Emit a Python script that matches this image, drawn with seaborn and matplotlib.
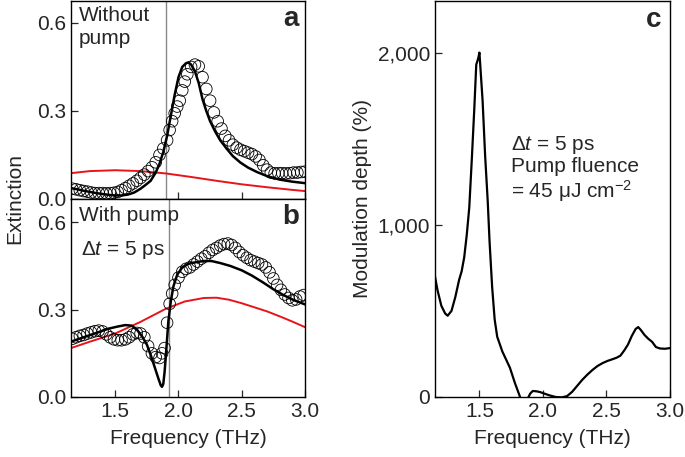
import numpy as np
import pandas as pd
import matplotlib
matplotlib.use("Agg")
import matplotlib.pyplot as plt
import seaborn as sns

# Panel a: without pump (measured circles, fit, red background)
freq_a_data = [1.16, 1.19, 1.22, 1.25, 1.28, 1.31, 1.34, 1.37, 1.40, 1.43, 1.46, 1.49, 1.52, 1.55,
               1.58, 1.61, 1.64, 1.67, 1.70, 1.73, 1.76, 1.79, 1.82, 1.85, 1.88, 1.91, 1.93, 1.95,
               1.97, 1.99, 2.01, 2.03, 2.05, 2.07, 2.10, 2.13, 2.16, 2.19, 2.22, 2.25, 2.28, 2.31,
               2.34, 2.37, 2.40, 2.43, 2.46, 2.49, 2.52, 2.55, 2.58, 2.61, 2.64, 2.67, 2.70, 2.73,
               2.76, 2.79, 2.82, 2.85, 2.88, 2.91, 2.94, 2.97, 3.00]
ext_a_data = [0.035, 0.033, 0.030, 0.027, 0.025, 0.022, 0.020, 0.020, 0.020, 0.019, 0.020, 0.021,
              0.024, 0.030, 0.037, 0.045, 0.053, 0.062, 0.072, 0.083, 0.095, 0.108, 0.125, 0.150,
              0.172, 0.200, 0.235, 0.265, 0.292, 0.315, 0.335, 0.370, 0.400, 0.425, 0.450, 0.458,
              0.452, 0.415, 0.375, 0.335, 0.295, 0.265, 0.240, 0.215, 0.200, 0.185, 0.175, 0.168,
              0.163, 0.158, 0.153, 0.145, 0.133, 0.115, 0.100, 0.090, 0.087, 0.088, 0.088, 0.087,
              0.088, 0.090, 0.090, 0.092, 0.093]

freq_a_fit = [1.15, 1.20, 1.25, 1.30, 1.35, 1.40, 1.45, 1.50, 1.55, 1.60, 1.65, 1.70, 1.74, 1.78,
              1.82, 1.85, 1.88, 1.91, 1.94, 1.97, 2.00, 2.03, 2.06, 2.08, 2.10, 2.13, 2.16, 2.19,
              2.22, 2.25, 2.29, 2.33, 2.38, 2.43, 2.49, 2.55, 2.62, 2.70, 2.80, 2.90, 3.00]
ext_a_fit = [0.037, 0.033, 0.028, 0.024, 0.020, 0.017, 0.014, 0.012, 0.012, 0.015, 0.022, 0.035,
             0.048, 0.062, 0.090, 0.120, 0.160, 0.215, 0.285, 0.355, 0.415, 0.450, 0.463, 0.465,
             0.458, 0.435, 0.395, 0.340, 0.300, 0.265, 0.230, 0.200, 0.172, 0.146, 0.124, 0.107,
             0.092, 0.078, 0.066, 0.059, 0.054]

freq_a_bg = [1.15, 1.30, 1.50, 1.70, 1.90, 2.10, 2.30, 2.50, 2.70, 2.90, 3.00]
ext_a_bg = [0.088, 0.095, 0.098, 0.095, 0.087, 0.075, 0.062, 0.050, 0.040, 0.031, 0.027]

# Panel b: with pump, dt = 5 ps
freq_b_data = [1.16, 1.19, 1.22, 1.25, 1.28, 1.31, 1.34, 1.37, 1.40, 1.43, 1.46, 1.49, 1.52, 1.55,
               1.58, 1.61, 1.64, 1.67, 1.70, 1.73, 1.76, 1.79, 1.82, 1.85, 1.87, 1.89, 1.91, 1.93,
               1.95, 1.97, 2.00, 2.03, 2.06, 2.09, 2.12, 2.15, 2.18, 2.21, 2.24, 2.27, 2.30, 2.33,
               2.36, 2.39, 2.42, 2.45, 2.48, 2.51, 2.54, 2.57, 2.60, 2.63, 2.66, 2.69, 2.72, 2.75,
               2.78, 2.81, 2.84, 2.87, 2.90, 2.93, 2.96, 2.99]
ext_b_data = [0.200, 0.205, 0.210, 0.213, 0.218, 0.222, 0.226, 0.228, 0.225, 0.215, 0.205, 0.198,
              0.195, 0.195, 0.198, 0.205, 0.215, 0.220, 0.218, 0.205, 0.175, 0.150, 0.137, 0.134,
              0.150, 0.168, 0.255, 0.320, 0.355, 0.385, 0.410, 0.430, 0.440, 0.445, 0.455, 0.465,
              0.475, 0.483, 0.495, 0.505, 0.512, 0.520, 0.525, 0.527, 0.522, 0.512, 0.498, 0.487,
              0.478, 0.470, 0.465, 0.460, 0.455, 0.445, 0.428, 0.407, 0.385, 0.368, 0.352, 0.340,
              0.332, 0.335, 0.345, 0.350]

freq_b_fit = [1.15, 1.25, 1.35, 1.45, 1.52, 1.58, 1.63, 1.67, 1.71, 1.75, 1.78, 1.81, 1.84, 1.86,
              1.87, 1.88, 1.89, 1.90, 1.91, 1.92, 1.94, 1.96, 1.99, 2.03, 2.08, 2.14, 2.20, 2.26,
              2.33, 2.41, 2.50, 2.58, 2.67, 2.75, 2.83, 2.91, 3.00]
ext_b_fit = [0.190, 0.205, 0.220, 0.235, 0.242, 0.247, 0.245, 0.232, 0.210, 0.180, 0.145, 0.105,
             0.065, 0.040, 0.035, 0.045, 0.085, 0.140, 0.200, 0.260, 0.330, 0.380, 0.420, 0.445,
             0.458, 0.463, 0.467, 0.467, 0.460, 0.450, 0.435, 0.417, 0.393, 0.370, 0.350, 0.333,
             0.318]

freq_b_bg = [1.15, 1.30, 1.50, 1.70, 1.90, 2.05, 2.20, 2.30, 2.40, 2.50, 2.60, 2.70, 2.80, 2.90, 3.00]
ext_b_bg = [0.168, 0.190, 0.218, 0.258, 0.303, 0.328, 0.340, 0.341, 0.334, 0.322, 0.308, 0.294,
            0.277, 0.259, 0.240]

# Panel c: modulation depth
freq_c = [1.15, 1.17, 1.20, 1.23, 1.25, 1.28, 1.31, 1.34, 1.36, 1.38, 1.40, 1.42, 1.44, 1.46,
          1.475, 1.49, 1.50, 1.525, 1.545, 1.565, 1.58, 1.60, 1.62, 1.64, 1.68, 1.74, 1.78,
          1.82, 1.85, 1.88, 1.90, 1.92, 1.95, 1.98, 2.01, 2.05, 2.10, 2.15, 2.19, 2.23, 2.27,
          2.31, 2.35, 2.39, 2.43, 2.47, 2.51, 2.55, 2.58, 2.61, 2.64, 2.67, 2.70, 2.73, 2.75,
          2.77, 2.80, 2.83, 2.86, 2.89, 2.92, 2.96, 3.00]
mod_c = [700, 620, 530, 485, 472, 500, 580, 680, 730, 810, 940, 1100, 1380, 1680,
         1930, 1965, 2000, 1720, 1400, 1142, 900, 640, 450, 350, 265, 170, 80,
         0, -40, -10, 20, 35, 33, 28, 20, 10, 0, -2, 5, 30, 65,
         100, 130, 157, 180, 197, 210, 220, 228, 240, 270, 305, 355, 395, 406,
         390, 360, 338, 320, 290, 282, 280, 284]

sns.set_style("ticks")
plt.rcParams["font.family"] = ["Liberation Sans", "DejaVu Sans"]
plt.rcParams["mathtext.fontset"] = "custom"
plt.rcParams["mathtext.rm"] = "Liberation Sans"
plt.rcParams["mathtext.it"] = "Liberation Sans:italic"
plt.rcParams["xtick.direction"] = "in"
plt.rcParams["ytick.direction"] = "in"

FS = 15
fig = plt.figure(figsize=(6.85, 4.57), dpi=100)
ax_a = fig.add_axes([0.1036, 0.5646, 0.3416, 0.4334])
ax_b = fig.add_axes([0.1036, 0.1313, 0.3416, 0.4333])
ax_c = fig.add_axes([0.635, 0.1313, 0.343, 0.8667])

def spectrum_panel(ax, fd, ed, ff, ef, fb, eb, vline):
    ax.axvline(vline, color="#888888", lw=1.0, zorder=1)
    sns.lineplot(x=fb, y=eb, ax=ax, color="#e8141a", lw=1.4, zorder=2)
    sns.scatterplot(x=fd, y=ed, ax=ax, marker="o", s=70, facecolor="none",
                    edgecolor="black", linewidth=0.6, zorder=3)
    sns.lineplot(x=ff, y=ef, ax=ax, color="black", lw=1.8, zorder=4)
    ax.set_xlim(1.15, 3.0)
    ax.set_yticks([0.0, 0.3, 0.6])
    ax.set_xticks([1.5, 2.0, 2.5, 3.0])
    ax.tick_params(labelsize=FS, length=5, width=0.9, top=False, right=False)
    for sp in ax.spines.values():
        sp.set_linewidth(1.0)
        sp.set_color("black")
    ax.set_ylabel("")
    ax.set_xlabel("")

spectrum_panel(ax_a, freq_a_data, ext_a_data, freq_a_fit, ext_a_fit, freq_a_bg, ext_a_bg, 1.90)
ax_a.set_ylim(0, 0.675)
ax_a.set_xticklabels([])
ax_a.text(0.035, 0.975, "Without\npump", transform=ax_a.transAxes, fontsize=FS,
          ha="left", va="top", linespacing=1.3)
ax_a.text(0.975, 0.975, "a", transform=ax_a.transAxes, fontsize=20, fontweight="bold",
          ha="right", va="top")

spectrum_panel(ax_b, freq_b_data, ext_b_data, freq_b_fit, ext_b_fit, freq_b_bg, ext_b_bg, 1.925)
ax_b.set_ylim(0, 0.68)
ax_b.set_xticklabels(["1.5", "2.0", "2.5", "3.0"])
ax_b.set_xlabel("Frequency (THz)", fontsize=FS, labelpad=6)
ax_b.text(0.035, 0.965, "With pump", transform=ax_b.transAxes, fontsize=FS, ha="left", va="top")
ax_b.text(0.045, 0.80, r"$\Delta\mathit{t}$ = 5 ps", transform=ax_b.transAxes, fontsize=FS,
          ha="left", va="top")
ax_b.text(0.975, 0.975, "b", transform=ax_b.transAxes, fontsize=20, fontweight="bold",
          ha="right", va="top")

fig.text(0.022, 0.565, "Extinction", rotation=90, fontsize=FS, ha="center", va="center")

# panel c
sns.lineplot(x=freq_c, y=mod_c, ax=ax_c, color="black", lw=1.6)
ax_c.set_xlim(1.15, 3.0)
ax_c.set_ylim(0, 2300)
ax_c.set_xticks([1.5, 2.0, 2.5, 3.0])
ax_c.set_xticklabels(["1.5", "2.0", "2.5", "3.0"])
ax_c.set_yticks([0, 1000, 2000])
ax_c.set_yticklabels(["0", "1,000", "2,000"])
ax_c.tick_params(labelsize=FS, length=5, width=0.9, top=False, right=False)
for sp in ax_c.spines.values():
    sp.set_linewidth(1.0)
    sp.set_color("black")
ax_c.set_xlabel("Frequency (THz)", fontsize=FS, labelpad=6)
ax_c.set_ylabel("Modulation depth (%)", fontsize=FS, labelpad=4)
ax_c.text(0.325, 0.665, r"$\Delta\mathit{t}$ = 5 ps" + "\nPump fluence\n= 45 \u03bcJ cm$^{\u22122}$",
          transform=ax_c.transAxes, fontsize=FS, ha="left", va="top", linespacing=1.1)
ax_c.text(0.965, 0.985, "c", transform=ax_c.transAxes, fontsize=20, fontweight="bold",
          ha="right", va="top")

fig.savefig("out.png", dpi=100)
plt.close()
